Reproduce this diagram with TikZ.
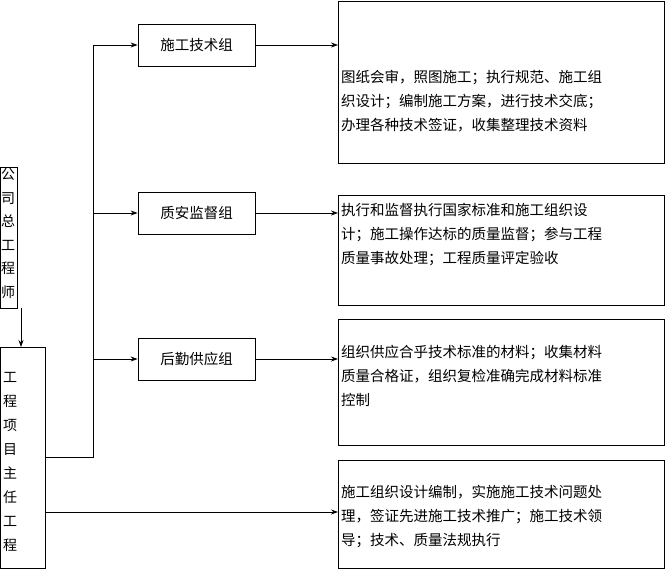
\documentclass[tikz,border=0pt]{standalone}
\usepackage{fontspec}
\newfontfamily\cjk{Noto Sans CJK SC}
\usetikzlibrary{arrows.meta}
\begin{document}
\begin{tikzpicture}[x=1pt,y=-1pt,
  box/.style={draw,line width=0.8pt,inner sep=0pt},
  arr/.style={-{Stealth[length=7pt,width=5pt]},line width=0.8pt},
  txt/.style={font=\cjk\fontsize{14.5}{24}\selectfont,align=left,anchor=north west,inner sep=0pt}]
\useasboundingbox (0,0) rectangle (666,570);
% left boxes
\draw[box] (0.5,167) rectangle (17,308);
\coordinate (gc) at (0.5,167);
\node[txt,font=\cjk\fontsize{14}{23.5}\selectfont] (zg) at (1,168) {公\\司\\总\\工\\程\\师};
\draw[box] (0.5,347) rectangle (45,568);
\node[txt,font=\cjk\fontsize{14}{24}\selectfont] (xm) at (3,372) {工\\程\\项\\目\\主\\任\\工\\程};
\coordinate (a1) at (21,308); \coordinate (a2) at (21,347);
\draw[arr] (a1) -- (a2);
% groups
\node[box,minimum width=117pt,minimum height=42pt,font=\cjk\fontsize{14.5}{18}\selectfont] (g1) at (196.5,45) {施工技术组};
\node[box,minimum width=117pt,minimum height=42pt,font=\cjk\fontsize{14.5}{18}\selectfont] (g2) at (196.5,213) {质安监督组};
\node[box,minimum width=117pt,minimum height=42pt,font=\cjk\fontsize{14.5}{18}\selectfont] (g3) at (196.5,359) {后勤供应组};
% right boxes
\node[box,minimum width=326pt,minimum height=162pt,anchor=north west] (r1) at (338,0.5) {};
\node[box,minimum width=326pt,minimum height=110pt,anchor=north west] (r2) at (338,195) {};
\node[box,minimum width=326pt,minimum height=126pt,anchor=north west] (r3) at (338,319) {};
\node[box,minimum width=326pt,minimum height=108pt,anchor=north west] (r4) at (338,460) {};
\node[txt] at (341,70) {图纸会审，照图施工；执行规范、施工组\\织设计；编制施工方案，进行技术交底；\\办理各种技术签证，收集整理技术资料};
\node[txt] at (341,203) {执行和监督执行国家标准和施工组织设\\计；施工操作达标的质量监督；参与工程\\质量事故处理；工程质量评定验收};
\node[txt] at (341,345) {组织供应合乎技术标准的材料；收集材料\\质量合格证，组织复检准确完成材料标准\\控制};
\node[txt] at (341,485) {施工组织设计编制，实施施工技术问题处\\理，签证先进施工技术推广；施工技术领\\导；技术、质量法规执行};
% connectors
\coordinate (b0) at (45,457); \coordinate (b1) at (93,457); \coordinate (b2) at (93,45);
\draw[line width=0.8pt] (b0) -- (b1) -- (b2);
\coordinate (c2) at (93,213); \coordinate (c3) at (93,359);
\draw[arr] (b2) -- (g1.west);
\draw[arr] (c2) -- (g2.west);
\draw[arr] (c3) -- (g3.west);
\draw[arr] (g1.east) -- (338,45);
\draw[arr] (g2.east) -- (338,213);
\draw[arr] (g3.east) -- (338,359);
\coordinate (d0) at (45,512);
\draw[arr] (d0) -- (338,512);
\end{tikzpicture}
\end{document}
